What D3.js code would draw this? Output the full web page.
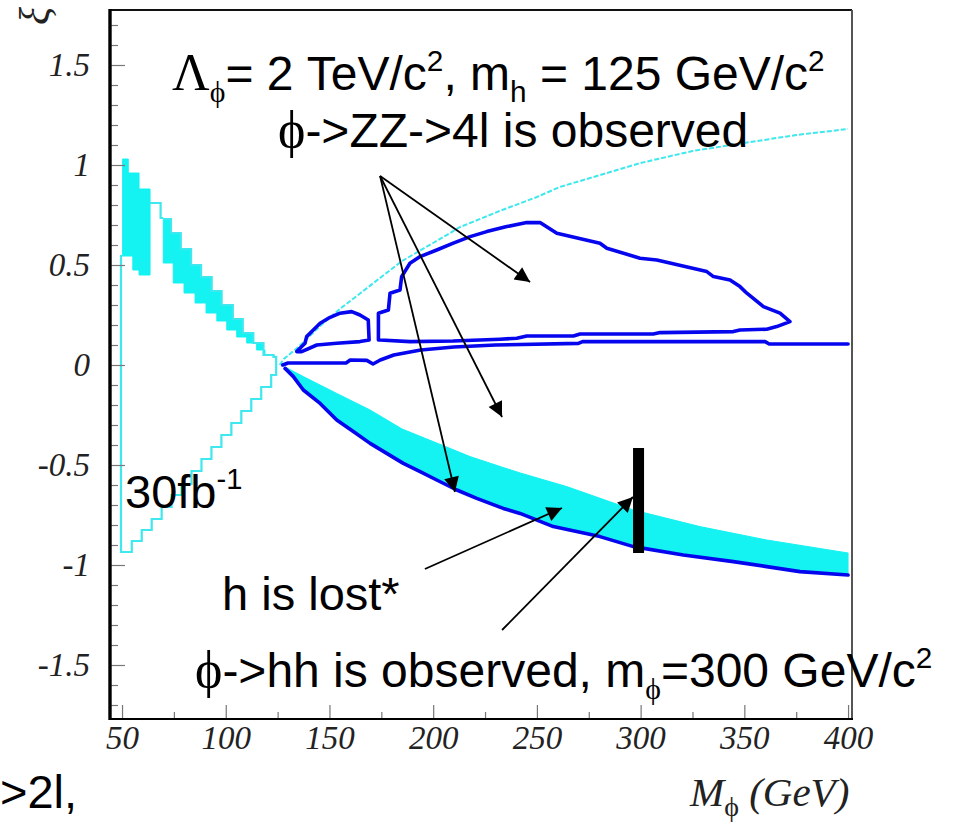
<!DOCTYPE html>
<html>
<head>
<meta charset="utf-8">
<script src="https://cdn.jsdelivr.net/npm/d3@7"></script>
<style>
  body { margin: 0; background: #fff; }
  svg { display: block; }
  text { white-space: pre; }
</style>
</head>
<body>
<script>
// axis ticks
const massTicks = [50, 100, 150, 200, 250, 300, 350, 400];
const massMinorTicks = [75, 125, 175, 225, 275, 325, 375];
const xiTicks = [-1.5, -1, -0.5, 0, 0.5, 1, 1.5];

// left cyan region: filled bands as stairs (bin edges in M, values in xi)
const bandATopEdges = [50.3, 53, 58.2, 63.5];
const bandATop = [1.03, 0.96, 0.88];
const bandABotEdges = [50.3, 55.2, 58.2, 63.5];
const bandABot = [0.545, 0.475, 0.45];

const bandBTopEdges = [69.9, 73.6, 78.3, 83.3, 88.1, 93.2, 98, 103.4, 108.2, 113.3, 118.2, 123, 124.3];
const bandBTop = [0.73, 0.66, 0.58, 0.5, 0.44, 0.37, 0.3, 0.23, 0.16, 0.11, 0.05, 0.04];
const bandBBotEdges = [69.9, 74.7, 79.9, 85.2, 90.5, 95.7, 100.5, 105.3, 110.1, 114.9, 118.9, 123];
const bandBBot = [0.51, 0.41, 0.36, 0.31, 0.26, 0.22, 0.175, 0.14, 0.11, 0.075, 0.05];

// left cyan outline, lower staircase
const lowStairEdges = [49.5, 54.7, 59.5, 64.3, 69.1, 73.9, 78.7, 83.5, 88.3, 93.1, 97.9, 102.7, 107.5, 112.3, 117.1, 121.9, 124.3];
const lowStair = [-0.935, -0.88, -0.825, -0.77, -0.71, -0.65, -0.595, -0.53, -0.47, -0.41, -0.35, -0.29, -0.23, -0.17, -0.11, -0.05];
const bandLink = [[63.5, 0.81], [68.6, 0.81], [68.6, 0.735], [69.9, 0.735]];

// right cyan boundary (upper)
const cyanUpper = [[126, 0.0], [128, 0.03], [135, 0.09], [145, 0.19], [155, 0.28], [165, 0.36], [175, 0.44],
  [185, 0.52], [200, 0.61], [213, 0.69], [232, 0.77], [250, 0.84], [261, 0.89], [274, 0.93],
  [300, 1.01], [325, 1.07], [350, 1.11], [375, 1.15], [400, 1.18]];

// lower cyan band: upper edge, lower edge is the blue curve
const bandCUpper = [[128.6, -0.01], [137.4, -0.058], [153.5, -0.142], [169.6, -0.225], [185, -0.32],
  [201.7, -0.39], [217.8, -0.458], [233, -0.51], [242, -0.54], [264.4, -0.608], [296.5, -0.725],
  [328.6, -0.808], [360.8, -0.875], [400, -0.94]];

// blue contours
const blueLower = [[128.6, -0.017], [132.6, -0.058], [137.4, -0.125], [145.5, -0.192], [153.5, -0.275],
  [161.5, -0.333], [169.6, -0.392], [177.6, -0.442], [185.6, -0.492], [193.7, -0.533], [201.7, -0.575],
  [211.4, -0.625], [221, -0.667], [233.8, -0.717], [241.9, -0.742], [257.9, -0.808], [280.4, -0.858],
  [296.5, -0.908], [320.6, -0.95], [344.7, -0.983], [360.8, -1.008], [376.8, -1.033], [400, -1.05]];

const blueFlat = [[127.5, 0.0], [130, 0.01], [158, 0.01], [160, 0.025], [168, 0.023], [171, 0.005],
  [174.5, 0.025], [181, 0.05], [194, 0.075], [210, 0.09], [230, 0.1], [270, 0.108], [272, 0.117],
  [360, 0.117], [362, 0.105], [400, 0.105]];

const blueSmallLoop = [[134.2, 0.067], [138.2, 0.109], [139, 0.142], [142.2, 0.175], [145.5, 0.209],
  [149.5, 0.234], [155.1, 0.259], [160.7, 0.267], [164.7, 0.25], [168.7, 0.225], [169.1, 0.125],
  [164.7, 0.117], [153.5, 0.109], [143.9, 0.1], [136.6, 0.067]];

const blueBigLoop = [[173.6, 0.125], [173.6, 0.259], [178.4, 0.275], [179.2, 0.359], [184, 0.375],
  [184.8, 0.442], [188.8, 0.509], [193.7, 0.542], [201.7, 0.575], [209.7, 0.609], [217.8, 0.642],
  [225.8, 0.667], [235.5, 0.692], [245.1, 0.712], [251.5, 0.712], [259.6, 0.659], [280.4, 0.609],
  [283.7, 0.584], [299.7, 0.534], [307.8, 0.525], [331.9, 0.467], [335.1, 0.442], [343.1, 0.425],
  [347.9, 0.392], [351.2, 0.359], [359.2, 0.292], [367.2, 0.259], [372, 0.217], [365.6, 0.192],
  [360.8, 0.179], [347.9, 0.175], [344.7, 0.167], [309.4, 0.162], [306.1, 0.155], [270.8, 0.155],
  [267.6, 0.145], [245.1, 0.145], [240.3, 0.134], [232.2, 0.129], [209.6, 0.12], [188.8, 0.117],
  [174.4, 0.125]];

// annotations (data coordinates)
const zzArrowFrom = [174.4, 0.945];
const zzArrowTo = [[246.7, 0.415], [233.2, -0.26], [210.5, -0.635]];
const lostArrow = [[196, -1.02], [262.1, -0.715]];
const hhArrow = [[233.2, -1.325], [296.3, -0.66]];
const hhBar = { m: 299, lo: -0.94, hi: -0.415 };

const W = 956, H = 825;
const x = d3.scaleLinear().domain([44.2, 401.9]).range([110, 852]);
const y = d3.scaleLinear().domain([-1.77, 1.775]).range([719, 10]);

const svg = d3.select("body").append("svg").attr("width", W).attr("height", H);
svg.append("rect").attr("width", W).attr("height", H).attr("fill", "#fff");

const defs = svg.append("defs");
defs.append("marker")
  .attr("id", "head").attr("viewBox", "0 0 10 10")
  .attr("refX", 10).attr("refY", 5)
  .attr("markerWidth", 19).attr("markerHeight", 15)
  .attr("markerUnits", "userSpaceOnUse").attr("orient", "auto")
  .append("path").attr("d", "M0,0L10,5L0,10z").attr("fill", "#000");

const line = d3.line().x(d => x(d[0])).y(d => y(d[1]));

function stairs(edges, vals) {
  const pts = [];
  vals.forEach((v, i) => { pts.push([edges[i], v], [edges[i + 1], v]); });
  return pts;
}

const CYAN_FILL = "#14f2f2";
const CYAN_LINE = "#3ee8ee";
const BLUE = "#0505ee";

// filled cyan areas
const bandA = stairs(bandATopEdges, bandATop).concat(stairs(bandABotEdges, bandABot).reverse());
const bandB = stairs(bandBTopEdges, bandBTop).concat(stairs(bandBBotEdges, bandBBot).reverse());
const bandC = bandCUpper.concat(blueLower.slice().reverse());
[bandA, bandB, bandC].forEach(b => {
  svg.append("path").attr("d", line(b) + "Z")
    .attr("fill", CYAN_FILL).attr("stroke", CYAN_FILL).attr("stroke-width", 1);
});

// thin cyan outlines
const lowOutline = [[bandABotEdges[0], bandABot[0]], [lowStairEdges[0], bandABot[0]]]
  .concat(stairs(lowStairEdges, lowStair))
  .concat([[124.3, 0.04], [123, 0.04]]);
[lowOutline, bandLink, stairs(bandBTopEdges, bandBTop)].forEach(p => {
  svg.append("path").attr("d", line(p))
    .attr("fill", "none").attr("stroke", CYAN_LINE).attr("stroke-width", 2.2);
});
svg.append("path").attr("d", line(cyanUpper))
  .attr("fill", "none").attr("stroke", CYAN_LINE).attr("stroke-width", 2)
  .attr("stroke-dasharray", "5 2");

// blue contours
[blueLower, blueFlat].forEach(p => {
  svg.append("path").attr("d", line(p))
    .attr("fill", "none").attr("stroke", BLUE).attr("stroke-width", 3.6)
    .attr("stroke-linejoin", "round").attr("stroke-linecap", "round");
});
[blueSmallLoop, blueBigLoop].forEach(p => {
  svg.append("path").attr("d", line(p) + "Z")
    .attr("fill", "none").attr("stroke", BLUE).attr("stroke-width", 3.6)
    .attr("stroke-linejoin", "round");
});

// black bar at M = 300
svg.append("rect")
  .attr("x", x(hhBar.m) - 5.5).attr("width", 11)
  .attr("y", y(hhBar.hi)).attr("height", y(hhBar.lo) - y(hhBar.hi))
  .attr("fill", "#000");

// arrows
const arrows = zzArrowTo.map(t => [zzArrowFrom, t]).concat([lostArrow, hhArrow]);
arrows.forEach(a => {
  svg.append("line")
    .attr("x1", x(a[0][0])).attr("y1", y(a[0][1]))
    .attr("x2", x(a[1][0])).attr("y2", y(a[1][1]))
    .attr("stroke", "#000").attr("stroke-width", 1.8)
    .attr("marker-end", "url(#head)");
});

// axes
const axisG = svg.append("g");

const xMajor = axisG.append("g").attr("transform", `translate(0,${y.range()[0]})`)
  .call(d3.axisBottom(x).tickValues(massTicks).tickSize(-14).tickSizeOuter(0).tickPadding(7).tickFormat(d => d));
const xMinor = axisG.append("g").attr("transform", `translate(0,${y.range()[0]})`)
  .call(d3.axisBottom(x).tickValues(massMinorTicks).tickSize(-7).tickSizeOuter(0).tickFormat(""));

const xiMinor = d3.range(-17, 18).map(v => v / 10).filter(v => Math.abs(v * 2 - Math.round(v * 2)) > 1e-6);
const yMajor = axisG.append("g").attr("transform", `translate(${x.range()[0]},0)`)
  .call(d3.axisLeft(y).tickValues(xiTicks).tickSize(-15).tickSizeOuter(0).tickPadding(20).tickFormat(d => String(d)));
const yMinor = axisG.append("g").attr("transform", `translate(${x.range()[0]},0)`)
  .call(d3.axisLeft(y).tickValues(xiMinor).tickSize(-8).tickSizeOuter(0).tickFormat(""));

[xMajor, xMinor, yMajor, yMinor].forEach(g => {
  g.selectAll(".tick line").attr("stroke", "#777").attr("stroke-width", 1.2);
  g.selectAll(".domain").remove();
  g.selectAll("text").attr("font-size", 33).attr("fill", "#222")
    .attr("font-family", "Liberation Serif").attr("font-style", "italic");
});

// frame
const [fx0, fx1] = x.range();
const [fy1, fy0] = y.range();
svg.append("line").attr("x1", fx0).attr("x2", fx1).attr("y1", fy0).attr("y2", fy0)
  .attr("stroke", "#111").attr("stroke-width", 2);
svg.append("line").attr("x1", fx1).attr("x2", fx1).attr("y1", fy0).attr("y2", fy1)
  .attr("stroke", "#555").attr("stroke-width", 2);
svg.append("line").attr("x1", fx0).attr("x2", fx1 + 1).attr("y1", fy1).attr("y2", fy1)
  .attr("stroke", "#000").attr("stroke-width", 2.2);
svg.append("line").attr("x1", fx0).attr("x2", fx0).attr("y1", fy0 - 1).attr("y2", fy1 + 1)
  .attr("stroke", "#000").attr("stroke-width", 3.4);

// axis titles
const xt = svg.append("text").attr("x", 690).attr("y", 806)
  .attr("font-family", "Liberation Serif").attr("font-size", 41).attr("font-style", "italic").attr("fill", "#222");
xt.append("tspan").text("M");
xt.append("tspan").attr("font-style", "normal").attr("font-size", 28).attr("dy", 10).text("ϕ");
xt.append("tspan").attr("dy", -10).text(" (GeV)");

svg.append("text")
  .attr("transform", "translate(36,16) rotate(-90)")
  .attr("text-anchor", "middle").attr("dy", "0.3em")
  .attr("font-family", "Liberation Serif").attr("font-style", "italic").attr("font-size", 42).attr("fill", "#222")
  .text("ξ");

// annotation texts
function richText(px, py, size, parts) {
  const t = svg.append("text").attr("x", px).attr("y", py)
    .attr("font-family", "Liberation Sans").attr("font-size", size).attr("fill", "#000");
  let shift = 0;
  parts.forEach(p => {
    const s = t.append("tspan").text(p.t);
    const target = p.sub ? 12 : p.sup ? -19 : 0;
    if (target !== shift) { s.attr("dy", target - shift); shift = target; }
    if (p.sub || p.sup) s.attr("font-size", size * 0.62);
    if (p.serif) s.attr("font-family", "Liberation Serif");
    if (p.size) s.attr("font-size", p.size);
  });
  return t;
}

richText(172, 90, 48, [
  { t: "Λ", serif: true, size: 52 },
  { t: "ϕ", serif: true, sub: true },
  { t: "= 2 TeV/c" }, { t: "2", sup: true },
  { t: ", m" }, { t: "h", sub: true },
  { t: " = 125 GeV/c" }, { t: "2", sup: true }
]);
richText(278, 147, 48, [{ t: "ϕ", serif: true, size: 52 }, { t: "->ZZ->4l is observed" }]);
richText(125, 508, 47, [{ t: "30fb" }, { t: "-1", sup: true }]);
richText(222, 610, 47, [{ t: "h is lost*" }]);
richText(195, 687, 48, [
  { t: "ϕ", serif: true, size: 52 }, { t: "->hh is observed, m" },
  { t: "ϕ", serif: true, sub: true }, { t: "=300 GeV/c" }, { t: "2", sup: true }
]);
richText(0, 808, 47, [{ t: ">2l," }]);
</script>
</body>
</html>
